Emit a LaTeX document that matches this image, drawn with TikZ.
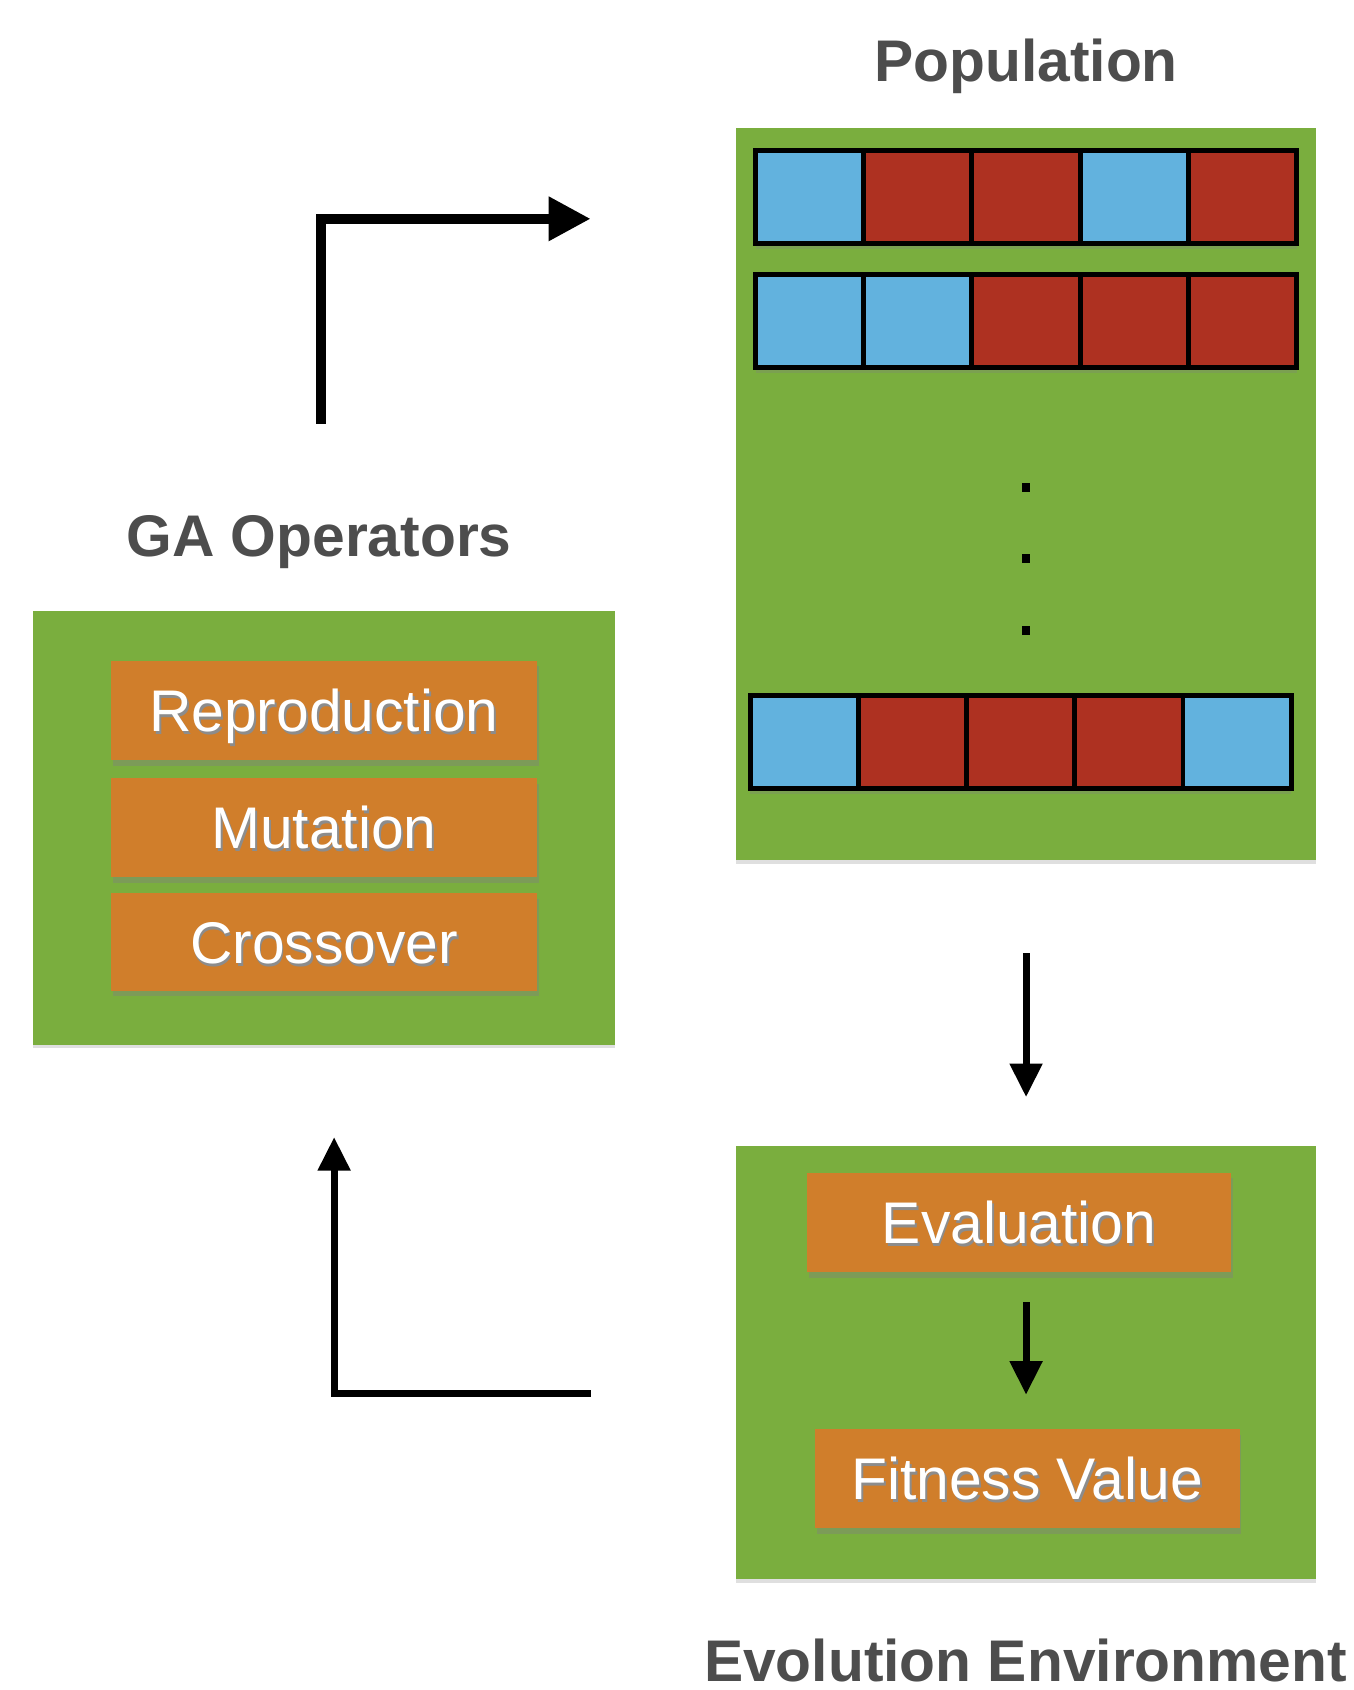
\documentclass[tikz,border=0pt]{standalone}
\usepackage{fontspec}
\setmainfont{Liberation Sans}
\usetikzlibrary{arrows.meta,shadows,calc}
\definecolor{boxgreen}{HTML}{7AAE3E}
\definecolor{oporange}{HTML}{D07E2B}
\definecolor{gblue}{HTML}{62B2DE}
\definecolor{gred}{HTML}{AE3121}
\definecolor{titlegray}{HTML}{4D4D4D}
\newcommand{\shtext}[1]{\makebox[0pt][l]{\hspace{0.5pt}\raisebox{-0.8pt}{\textcolor{black!45}{#1}}}#1}

\begin{document}
\begin{tikzpicture}[x=0.01cm, y=-0.01cm,
    title/.style={font=\fontsize{15.5}{18}\selectfont\bfseries, text=titlegray, inner sep=0pt},
    panel/.style={rectangle, fill=boxgreen, inner sep=0pt, outer sep=0pt,
        drop shadow={shadow xshift=0pt, shadow yshift=-1pt, opacity=0.25}},
    opbox/.style={rectangle, fill=oporange, text=white, font=\fontsize{15.5}{18}\selectfont,
        minimum width=3.95cm, minimum height=0.92cm, text height=0.39cm, text depth=0pt,
        inner sep=0pt, outer sep=0pt,
        drop shadow={shadow xshift=0.5pt, shadow yshift=-1.5pt, opacity=0.4}},
    gene/.style={rectangle, draw=black, line width=1.3pt, minimum width=1.004cm,
        minimum height=0.86cm, inner sep=0pt, outer sep=0pt,
        drop shadow={shadow xshift=0pt, shadow yshift=-1.5pt, opacity=0.3}},
    gdot/.style={rectangle, fill=black, minimum size=0.08cm, inner sep=0pt},
    bigarrow/.style={-{Triangle[length=3.9mm, width=3.9mm]}, line width=2.6pt},
    arrow/.style={-{Triangle[length=3.1mm, width=2.9mm]}, line width=1.85pt},
]
\useasboundingbox (0,0) rectangle (1256,1568);

% Population
\node[title, anchor=base] (poptitle) at (952,76) {Population};
\node[panel, minimum width=5.38cm, minimum height=6.79cm] (pop) at (952,458.5) {};
\foreach \col [count=\i] in {gblue,gred,gred,gblue,gred}
    \node[gene, fill=\col] (a\i) at ({650.8+\i*100.4},183) {};
\foreach \col [count=\i] in {gblue,gblue,gred,gred,gred}
    \node[gene, fill=\col] (b\i) at ({650.8+\i*100.4},298) {};
\node[gdot] (d1) at (952,452) {};
\node[gdot] (d2) at (952,518) {};
\node[gdot] (d3) at (952,585) {};
\foreach \col [count=\i] in {gblue,gred,gred,gred,gblue}
    \node[gene, fill=\col] (n\i) at ({645.8+\i*100.4},688.5) {};

% GA Operators
\node[title, anchor=base] (gatitle) at (296,516) {GA Operators};
\node[panel, minimum width=5.39cm, minimum height=4.02cm] (ga) at (300.5,768) {};
\node[opbox] (repro) at (300.5,659) {\shtext{Reproduction}};
\node[opbox] (mut) at (300.5,768) {\shtext{Mutation}};
\node[opbox, minimum height=0.9cm] (cross) at (300.5,874) {\shtext{Crossover}};

% Evolution Environment
\node[panel, minimum width=5.38cm, minimum height=4.02cm] (env) at (952,1264) {};
\node[opbox, minimum width=3.93cm] (eval) at (945.5,1134) {\shtext{Evaluation}};
\node[opbox, minimum width=3.94cm] (fit) at (953,1372) {\shtext{Fitness Value}};
\node[title, anchor=base] (envtitle) at (951.5,1560) {Evolution Environment};

% loop arrows
\coordinate (gaup) at (298,393);
\coordinate (popin) at (548,203);
\coordinate (envback) at (548,1293);
\coordinate (gaback) at (310,1055);
\draw[bigarrow] (gaup) |- (popin);
\draw[arrow] ($(pop.south)+(0,86)$) -- ($(env.north)+(0,-45)$);
\draw[arrow] ($(eval.south -| env.center)+(0,28)$) -- ($(fit.north -| env.center)+(0,-32)$);
\draw[arrow] (envback) -| (gaback);

\end{tikzpicture}
\end{document}
